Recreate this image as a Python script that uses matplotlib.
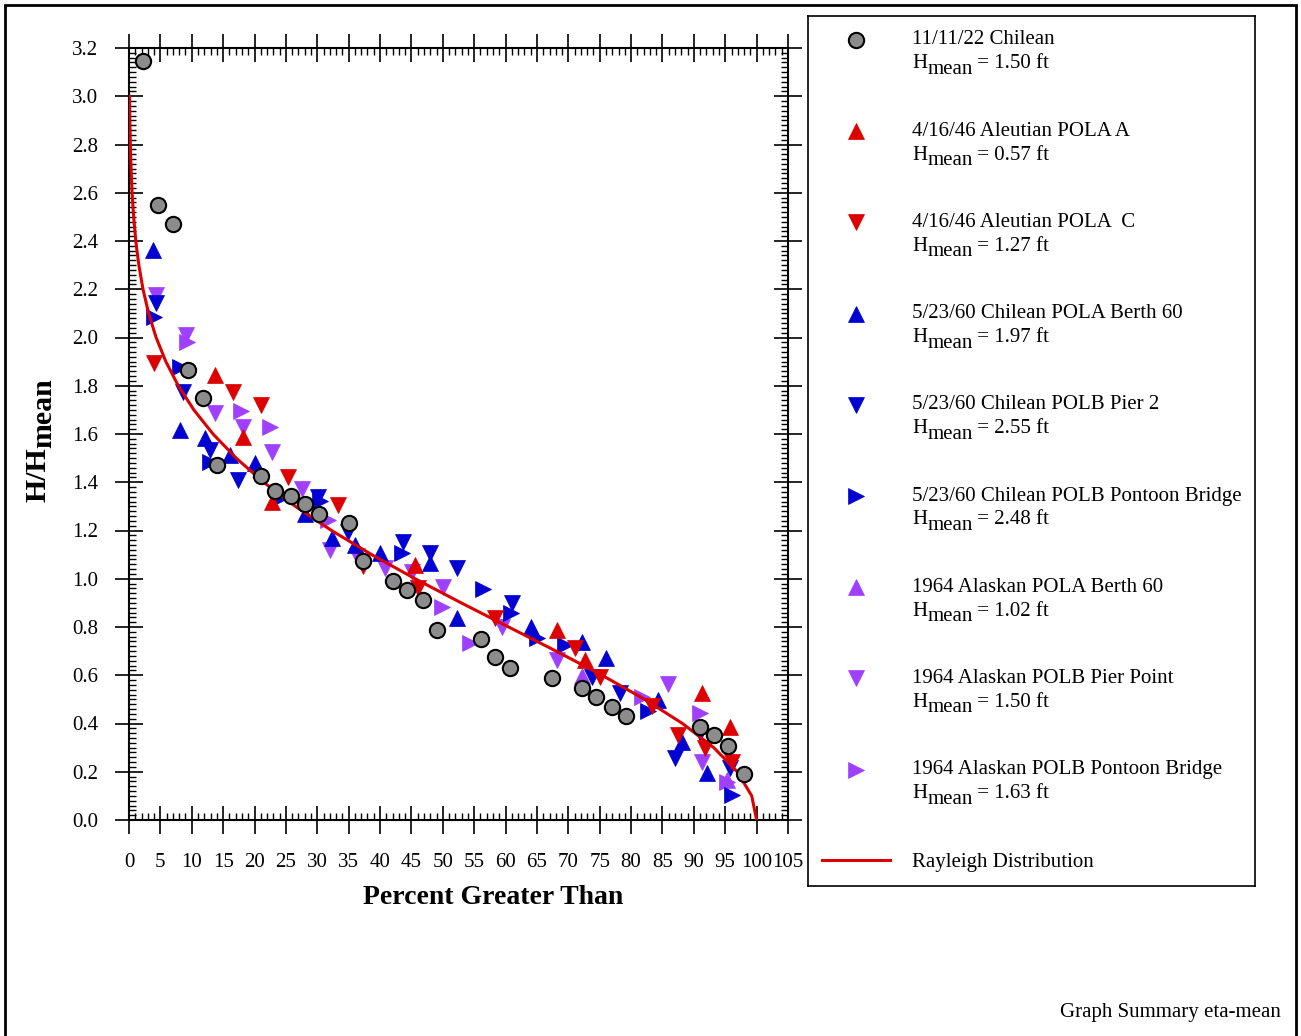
import matplotlib
matplotlib.use("Agg")
import matplotlib.pyplot as plt
from matplotlib.patches import Rectangle
from matplotlib.ticker import MultipleLocator, FormatStrFormatter

plt.rcParams["font.family"] = ["Liberation Serif", "DejaVu Serif"]

# --- data (percent greater than, H/Hmean) ---
chile22_x = [2.31, 4.70, 7.09, 9.37, 11.76, 14.06, 20.96, 23.19, 25.85, 28.05,
             30.28, 34.98, 37.26, 42.04, 44.33, 46.77, 49.0, 56.02, 58.25, 60.72,
             67.44, 72.19, 74.45, 76.97, 79.24, 90.95, 93.26, 95.46, 97.93]
chile22_y = [3.145, 2.548, 2.469, 1.867, 1.749, 1.473, 1.427, 1.365, 1.344, 1.311,
             1.270, 1.231, 1.075, 0.992, 0.954, 0.913, 0.788, 0.751, 0.676, 0.629,
             0.590, 0.546, 0.511, 0.468, 0.432, 0.387, 0.352, 0.307, 0.191]

polaA_x = [13.63, 18.09, 22.71, 45.50, 68.13, 72.59, 91.24, 95.70]
polaA_y = [1.846, 1.589, 1.320, 1.058, 0.788, 0.664, 0.527, 0.386]

polaC_x = [4.06, 16.65, 20.96, 25.26, 33.23, 37.21, 45.98, 58.25, 70.99, 74.98,
           83.27, 87.41, 91.71, 96.02]
polaC_y = [1.896, 1.776, 1.722, 1.423, 1.307, 1.054, 0.963, 0.838, 0.714, 0.593,
           0.473, 0.353, 0.299, 0.241]

berth60_x = [3.90, 8.05, 12.03, 16.02, 20.0, 27.97, 32.27, 35.94, 39.92, 47.89,
             52.19, 63.98, 72.11, 75.94, 84.22, 88.05, 92.03]
berth60_y = [2.361, 1.618, 1.585, 1.515, 1.481, 1.27, 1.170, 1.141, 1.108, 1.066,
             0.838, 0.801, 0.739, 0.672, 0.498, 0.324, 0.195]

pier2_x = [4.38, 8.53, 12.83, 17.29, 30.04, 34.82, 43.59, 47.89, 52.19, 60.96,
           73.7, 78.17, 86.93, 90.9, 95.70]
pier2_y = [2.145, 1.776, 1.535, 1.411, 1.340, 1.195, 1.154, 1.108, 1.046, 0.90,
           0.593, 0.527, 0.257, 0.361, 0.216]

pontoon60_x = [4.06, 8.05, 12.83, 24.30, 30.36, 43.43, 56.33, 60.80, 64.94, 69.40,
               82.63, 96.02]
pontoon60_y = [2.087, 1.876, 1.485, 1.340, 1.324, 1.108, 0.958, 0.859, 0.755, 0.726,
               0.452, 0.104]

ak_berth60_x = [72.11, 95.22]
ak_berth60_y = [0.598, 0.166]

ak_pier_x = [4.38, 9.16, 13.63, 18.09, 22.71, 27.49, 31.95, 36.25, 40.72, 45.02,
             49.96, 59.36, 68.13, 85.82, 91.24]
ak_pier_y = [2.178, 2.012, 1.689, 1.627, 1.527, 1.373, 1.120, 1.095, 1.046, 1.029,
             0.967, 0.801, 0.664, 0.564, 0.241]

ak_pontoon_x = [9.32, 17.77, 22.39, 31.63, 49.80, 54.26, 81.67, 90.92, 95.22]
ak_pontoon_y = [1.983, 1.697, 1.627, 1.245, 0.884, 0.734, 0.510, 0.444, 0.158]

# Rayleigh distribution curve
rayleigh_h = [0.0, 0.1, 0.2, 0.3, 0.4, 0.5, 0.6, 0.7, 0.8, 0.9, 1.0, 1.1, 1.2, 1.3,
              1.4, 1.5, 1.6, 1.7, 1.8, 1.9, 2.0, 2.1, 2.2, 2.3, 2.4, 2.5, 2.6, 2.7,
              2.8, 2.9, 3.0]
rayleigh_p = [100.0, 99.22, 96.91, 93.17, 88.19, 82.17, 75.37, 68.06, 60.49, 52.93,
              45.59, 38.66, 32.27, 26.52, 21.45, 17.08, 13.39, 10.33, 7.85, 5.87,
              4.32, 3.13, 2.23, 1.57, 1.08, 0.74, 0.49, 0.33, 0.21, 0.135, 0.085]

RED = "#dd0000"
BLUE = "#0000d2"
PURPLE = "#a040ff"
GREY = "#8c8c8c"

series = [
    # x, y, marker, color, line1, hmean
    (chile22_x, chile22_y, "o", GREY, "11/11/22 Chilean", "1.50"),
    (polaA_x, polaA_y, "^", RED, "4/16/46 Aleutian POLA A", "0.57"),
    (polaC_x, polaC_y, "v", RED, "4/16/46 Aleutian POLA  C", "1.27"),
    (berth60_x, berth60_y, "^", BLUE, "5/23/60 Chilean POLA Berth 60", "1.97"),
    (pier2_x, pier2_y, "v", BLUE, "5/23/60 Chilean POLB Pier 2", "2.55"),
    (pontoon60_x, pontoon60_y, ">", BLUE, "5/23/60 Chilean POLB Pontoon Bridge", "2.48"),
    (ak_berth60_x, ak_berth60_y, "^", PURPLE, "1964 Alaskan POLA Berth 60", "1.02"),
    (ak_pier_x, ak_pier_y, "v", PURPLE, "1964 Alaskan POLB Pier Point", "1.50"),
    (ak_pontoon_x, ak_pontoon_y, ">", PURPLE, "1964 Alaskan POLB Pontoon Bridge", "1.63"),
]

W, H = 1301, 1036
FS = 15
fig = plt.figure(figsize=(W / 100, H / 100), dpi=100)
ax = fig.add_axes([129 / W, 1 - 820 / H, 659 / W, 772 / H])


def mstyle(marker, color):
    if marker == "o":
        return dict(marker="o", ms=11, mfc=color, mec="black", mew=1.5, ls="none")
    return dict(marker=marker, ms=11.5, mfc=color, mec=color, mew=0.5, ls="none")


# draw last series first so the circles end up on top
for i, (xs, ys, mk, col, _, _) in enumerate(reversed(series)):
    if mk == "o":
        continue
    ax.plot(xs, ys, zorder=2 + i * 0.01, **mstyle(mk, col))

ax.plot(rayleigh_p, rayleigh_h, color=RED, lw=2.2, zorder=3)
ax.plot(chile22_x, chile22_y, zorder=4, **mstyle("o", GREY))

ax.set_xlim(0, 105)
ax.set_ylim(0, 3.2)
ax.xaxis.set_major_locator(MultipleLocator(5))
ax.xaxis.set_minor_locator(MultipleLocator(1))
ax.yaxis.set_major_locator(MultipleLocator(0.2))
ax.yaxis.set_minor_locator(MultipleLocator(0.02))
ax.yaxis.set_major_formatter(FormatStrFormatter("%.1f"))

for sp in ax.spines.values():
    sp.set_linewidth(1.5)
ax.tick_params(which="major", direction="inout", length=20, width=1.2,
               top=True, right=True, labelsize=FS)
ax.tick_params(axis="x", which="major", pad=13.5)
ax.tick_params(axis="y", which="major", pad=12)
ax.tick_params(which="minor", direction="in", length=5, width=1,
               top=True, right=True)

ax.set_xlabel("Percent Greater Than", fontsize=20, fontweight="bold")
ax.xaxis.set_label_coords((493 - 129) / 659, -(885 - 820) / 772)

# y label "H/H" with "mean" as a lowered, same-size subscript
yl = fig.text(38 / W, 1 - 475 / H, "H/H", rotation=90, fontsize=21.5,
              fontweight="bold", ha="center", va="center")
ax.annotate("mean", xy=(1, 1), xycoords=yl, xytext=(4, 0),
            textcoords="offset points", rotation=90, fontsize=21.5,
            fontweight="bold", ha="right", va="bottom", annotation_clip=False)

# legend box, laid out in pixel units
lax = fig.add_axes([808 / W, 1 - 886 / H, (1255 - 808) / W, (886 - 16) / H])
lax.set_xlim(808, 1255)
lax.set_ylim(886, 16)
lax.set_xticks([])
lax.set_yticks([])
for sp in lax.spines.values():
    sp.set_linewidth(1.2)

for i, (_, _, mk, col, line1, hm) in enumerate(series):
    y0 = 40 + i * 91.2
    lax.plot([856], [y0], **mstyle(mk, col))
    lax.text(912, y0, line1, fontsize=FS, va="center", ha="left")
    t_h = lax.text(912, y0 + 24, "H", fontsize=FS, va="center", ha="left")
    t_m = lax.annotate("mean", xy=(1, 0), xycoords=t_h, xytext=(0, -4),
                       textcoords="offset points", fontsize=FS,
                       va="bottom", ha="left")
    lax.annotate(" = " + hm + " ft", xy=(1, 0), xycoords=t_m, xytext=(0, 4),
                 textcoords="offset points", fontsize=FS, va="bottom", ha="left")
lax.plot([822, 890], [860, 860], color=RED, lw=2.2)
lax.text(912, 862, "Rayleigh Distribution", fontsize=FS, va="center", ha="left")

fig.text(1281 / W, 1 - 1012 / H, "Graph Summary eta-mean", fontsize=FS,
         ha="right", va="center")

fig.patches.append(Rectangle((5 / W, -0.01), (1296 - 5) / W, (H - 5) / H + 0.01,
                             transform=fig.transFigure, fill=False, lw=2,
                             ec="black"))

fig.savefig("out.png", dpi=100)
